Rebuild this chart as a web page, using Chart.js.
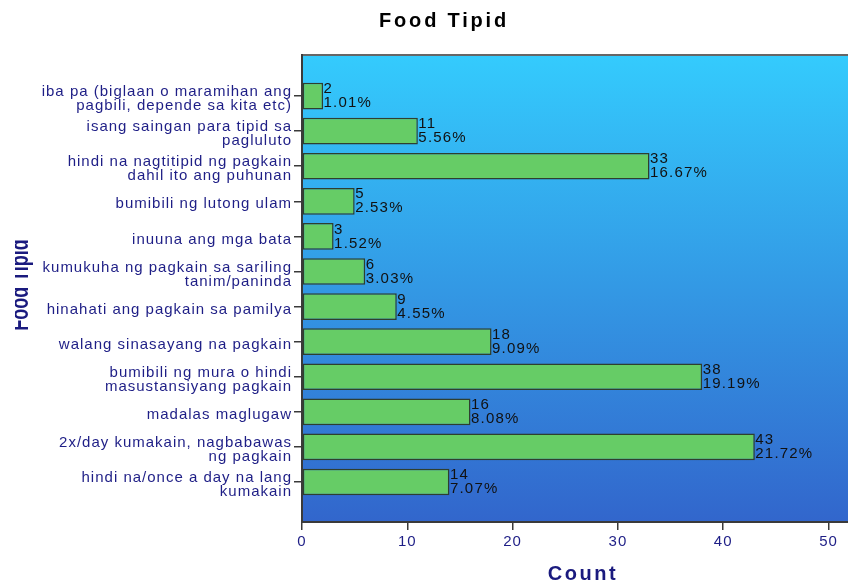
<!DOCTYPE html>
<html>
<head>
<meta charset="utf-8">
<title>Food Tipid</title>
<script src="https://cdn.jsdelivr.net/npm/chart.js@4.4.0/dist/chart.umd.min.js"></script>
<style>
  html, body { margin: 0; padding: 0; background: #fff; }
  #wrap { width: 848px; height: 585px; }
</style>
</head>
<body>
<div id="wrap"><canvas id="foodChart" width="848" height="585"></canvas></div>
<script>
// answers, top to bottom as they appear on the chart
const categories = [
  ['iba pa (biglaan o maramihan ang', 'pagbili, depende sa kita etc)'],
  ['isang saingan para tipid sa', 'pagluluto'],
  ['hindi na nagtitipid ng pagkain', 'dahil ito ang puhunan'],
  'bumibili ng lutong ulam',
  'inuuna ang mga bata',
  ['kumukuha ng pagkain sa sariling', 'tanim/paninda'],
  'hinahati ang pagkain sa pamilya',
  'walang sinasayang na pagkain',
  ['bumibili ng mura o hindi', 'masustansiyang pagkain'],
  'madalas maglugaw',
  ['2x/day kumakain, nagbabawas', 'ng pagkain'],
  ['hindi na/once a day na lang', 'kumakain']
];
const counts = [2, 11, 33, 5, 3, 6, 9, 18, 38, 16, 43, 14];
const percents = ['1.01%', '5.56%', '16.67%', '2.53%', '1.52%', '3.03%', '4.55%', '9.09%', '19.19%', '8.08%', '21.72%', '7.07%'];
const xTicks = [0, 10, 20, 30, 40, 50];

const FONT = '"Liberation Sans", Arial, sans-serif';
const NAVY = '#1e1e86';
const AXIS = '#3a3a3a';

// SPSS style: gradient panel, spaced text, titles and bar labels
const spssLook = {
  id: 'spssLook',
  beforeUpdate(chart) {
    chart.ctx.letterSpacing = '1px';
  },
  beforeDraw(chart) {
    const ctx = chart.ctx;
    const a = chart.chartArea;
    ctx.letterSpacing = '1px';
    ctx.save();
    const grad = ctx.createLinearGradient(0, a.top, 0, a.bottom);
    grad.addColorStop(0, '#34cbfd');
    grad.addColorStop(1, '#3266cc');
    ctx.fillStyle = grad;
    ctx.fillRect(a.left, a.top, a.right - a.left, a.bottom - a.top);
    ctx.fillStyle = '#666';
    ctx.fillRect(a.left, a.top - 1, a.right - a.left, 2);
    ctx.restore();
  },
  afterDatasetsDraw(chart) {
    const ctx = chart.ctx;
    const meta = chart.getDatasetMeta(0);
    ctx.save();
    ctx.font = '15px ' + FONT;
    ctx.letterSpacing = '1.2px';
    ctx.fillStyle = '#111';
    ctx.textAlign = 'left';
    ctx.textBaseline = 'middle';
    meta.data.forEach((bar, i) => {
      ctx.fillText(String(counts[i]), bar.x + 0.5, bar.y - 7);
      ctx.fillText(percents[i], bar.x + 0.5, bar.y + 7);
    });
    ctx.restore();
  },
  afterDraw(chart) {
    const ctx = chart.ctx;
    const a = chart.chartArea;
    ctx.save();
    ctx.textAlign = 'center';
    ctx.textBaseline = 'alphabetic';
    ctx.font = 'bold 20px ' + FONT;
    ctx.letterSpacing = '2.8px';
    ctx.fillStyle = '#000';
    ctx.fillText('Food Tipid', 444, 27);
    ctx.letterSpacing = '2.5px';
    ctx.fillStyle = '#1a1a7e';
    ctx.fillText('Count', (a.left + a.right) / 2 + 8, 580);
    ctx.restore();

    // y axis title, cut off at the left like the original
    ctx.save();
    ctx.beginPath();
    ctx.rect(15, 0, 60, 585);
    ctx.clip();
    ctx.translate(28, 285);
    ctx.rotate(-Math.PI / 2);
    ctx.scale(0.72, 1);
    ctx.font = 'bold 25px ' + FONT;
    ctx.letterSpacing = '0px';
    ctx.fillStyle = '#1a1a7e';
    ctx.textAlign = 'center';
    ctx.fillText('Food Tipid', 0, 0);
    ctx.restore();
  }
};

const ctx = document.getElementById('foodChart').getContext('2d');
new Chart(ctx, {
  type: 'bar',
  data: {
    datasets: [{
      label: 'Count',
      data: counts.map((c, i) => ({ x: c, y: i })),
      backgroundColor: '#66cc66',
      borderColor: '#2f3f2f',
      borderWidth: 1.5,
      borderSkipped: false,
      barPercentage: 0.76,
      categoryPercentage: 1,
    }],
  },
  options: {
    indexAxis: 'y',
    responsive: false,
    animation: false,
    layout: {
      padding: { top: 55, right: 0, bottom: 0, left: 0 },
    },
    plugins: {
      legend: { display: false },
      tooltip: { enabled: false },
      title: { display: false },
    },
    scales: {
      x: {
        type: 'linear',
        min: 0,
        max: 51.85,
        afterBuildTicks: scale => { scale.ticks = xTicks.map(v => ({ value: v })); },
        afterFit: scale => { scale.height = 63; },
        grid: {
          drawOnChartArea: false,
          tickLength: 8,
          color: AXIS,
          lineWidth: 1.5,
        },
        border: { display: true, color: AXIS, width: 2 },
        ticks: {
          color: NAVY,
          padding: 3,
          font: { family: FONT, size: 15 },
        },
      },
      y: {
        type: 'linear',
        reverse: true,
        offset: false,
        min: -1.17,
        max: 12.14,
        afterBuildTicks: scale => { scale.ticks = categories.map((c, i) => ({ value: i })); },
        afterFit: scale => { scale.width = 302; },
        grid: {
          offset: false,
          drawOnChartArea: false,
          tickLength: 8,
          color: AXIS,
          lineWidth: 1.5,
        },
        border: { display: true, color: AXIS, width: 2 },
        ticks: {
          color: NAVY,
          padding: 2,
          labelOffset: 3,
          autoSkip: false,
          font: { family: FONT, size: 15, lineHeight: 0.93 },
          callback: v => categories[v],
        },
      },
    },
  },
  plugins: [spssLook],
});
</script>
</body>
</html>
